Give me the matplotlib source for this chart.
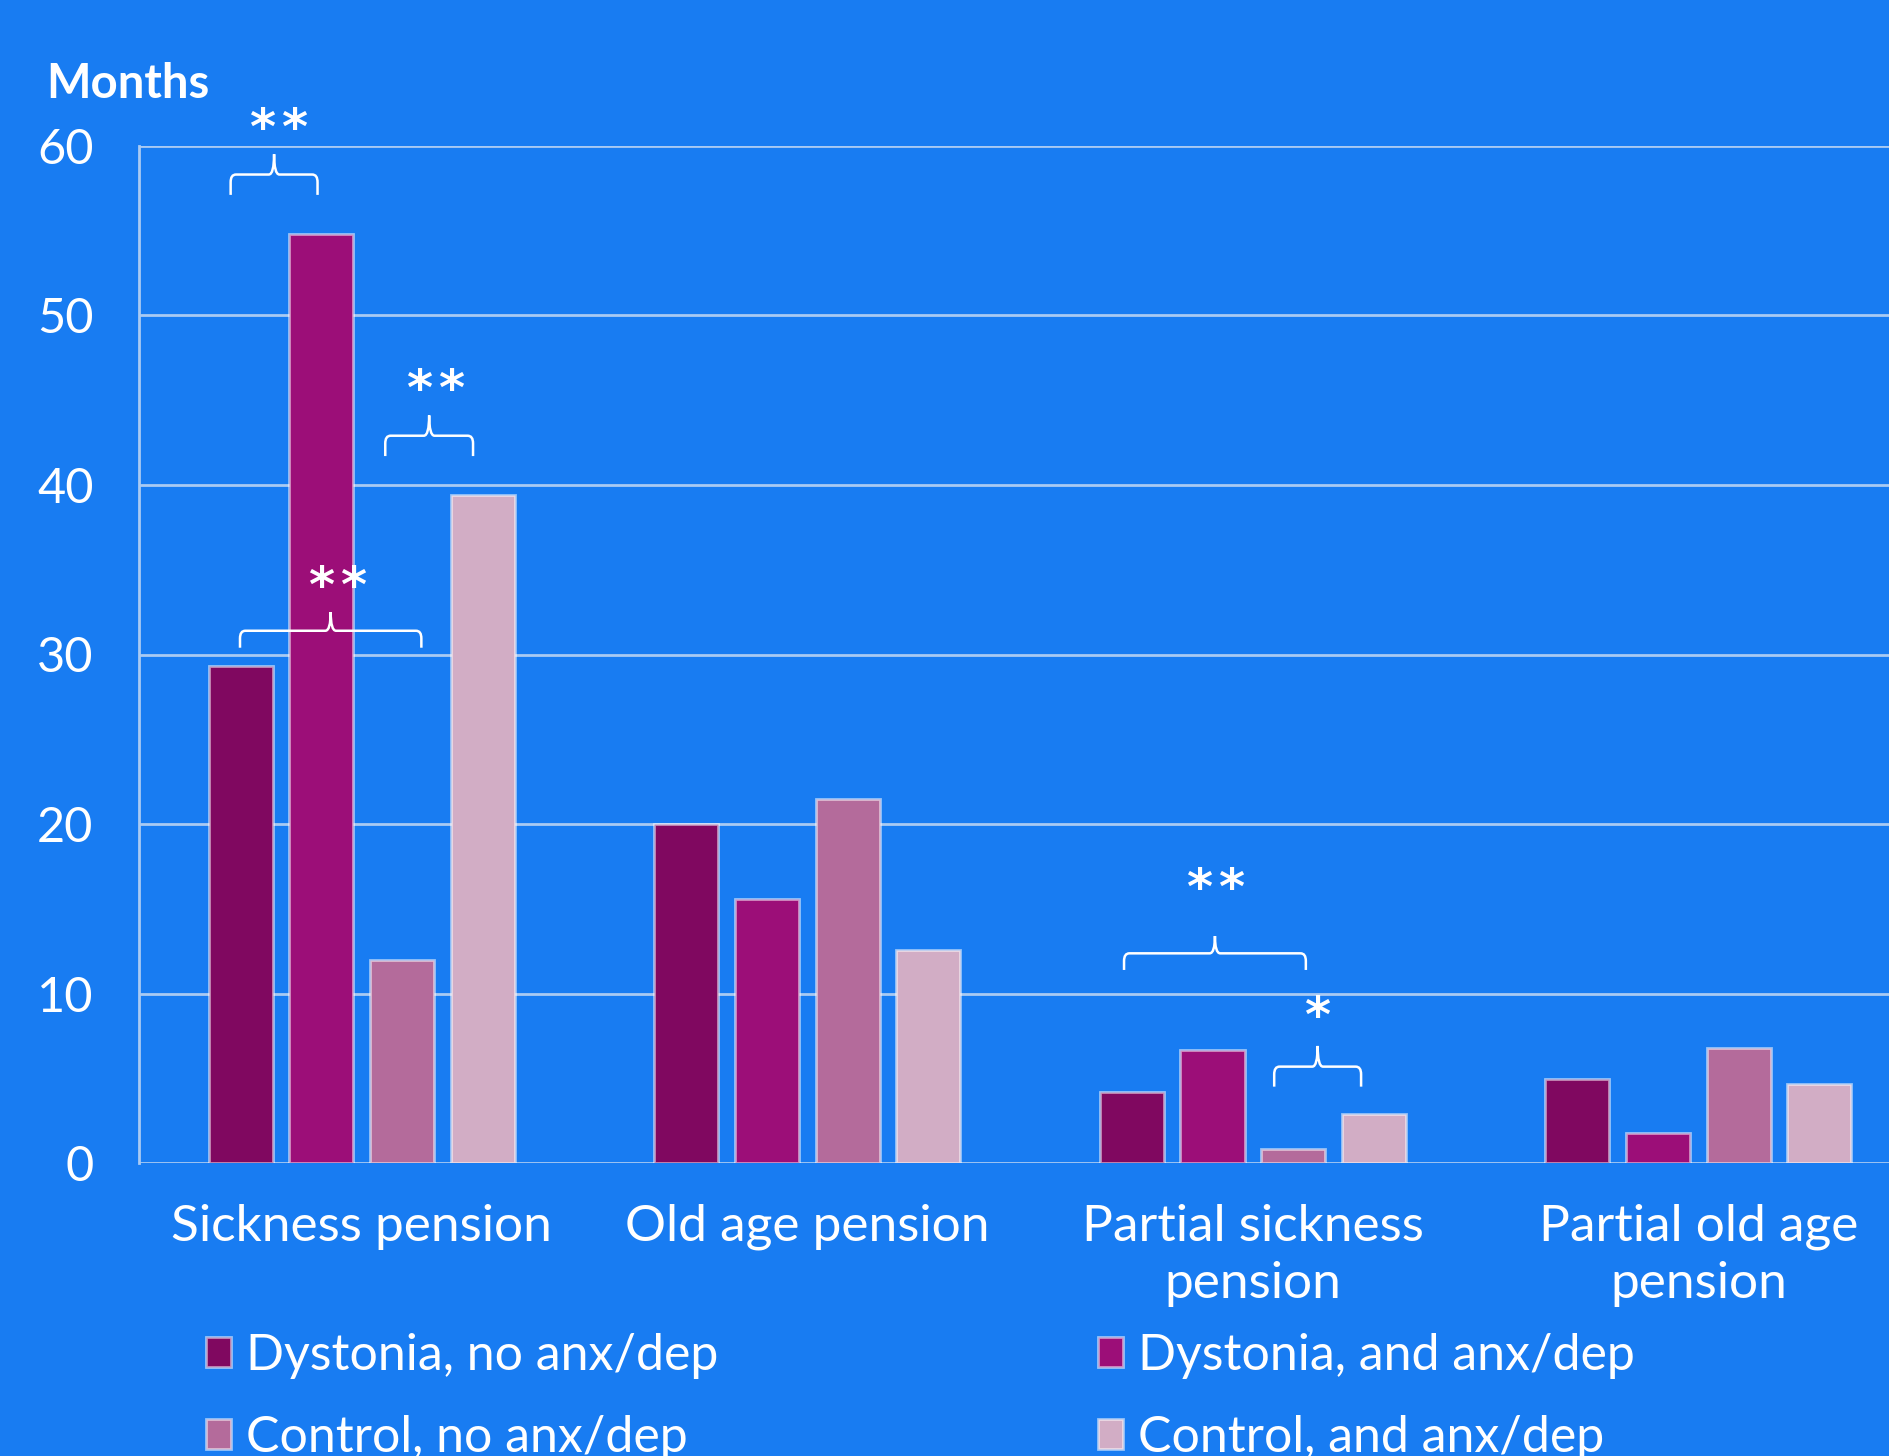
import matplotlib
matplotlib.use("Agg")
import matplotlib.pyplot as plt
from matplotlib.path import Path
from matplotlib.patches import PathPatch
import numpy as np

plt.rcParams['font.family'] = ['Lato', 'DejaVu Sans']

categories = ["Sickness pension", "Old age pension", "Partial sickness\npension", "Partial old age\npension"]
series_names = ["Dystonia, no anx/dep", "Dystonia, and anx/dep", "Control, no anx/dep", "Control, and anx/dep"]
dyst_no = [29.3, 20.0, 4.2, 5.0]
dyst_anx = [54.8, 15.6, 6.7, 1.8]
ctrl_no = [12.0, 21.5, 0.85, 6.8]
ctrl_anx = [39.4, 12.6, 2.9, 4.7]
yticks = [0, 10, 20, 30, 40, 50, 60]

# significance brackets: (x0, x1, y_bottom, y_horizontal, y_tip, label, label_x, label_y)
brackets = [
    (-0.294, -0.099, 57.1, 58.3, 59.5, "**", -0.188, 61.6),
    (0.053, 0.250, 41.7, 42.9, 44.1, "**", 0.165, 46.2),
    (-0.273, 0.134, 30.4, 31.4, 32.5, "**", -0.055, 34.55),
    (1.711, 2.119, 11.4, 12.38, 13.4, "**", 1.915, 16.75),
    (2.048, 2.243, 4.52, 5.70, 6.92, "*", 2.145, 9.23),
]

BG = "#187cf2"
colors = ["#800860", "#9c0e78", "#b46b9b", "#d2adc5"]
GRID = "#a9caf3"

fig = plt.figure(figsize=(18.9, 14.56), dpi=100, facecolor=BG)
ax = fig.add_axes([139.3/1890, 1 - 1163.3/1456, 1 - 139.3/1890, (1163.3 - 145.7)/1456])
ax.set_facecolor(BG)

x = np.arange(len(categories))
step = 0.181
width = 0.1437
all_series = [dyst_no, dyst_anx, ctrl_no, ctrl_anx]
handles = []
for i, (vals, c, name) in enumerate(zip(all_series, colors, series_names)):
    b = ax.bar(x + (i - 1.5) * step, vals, width, color=c, edgecolor=(1, 1, 1, 0.55),
               linewidth=2, label=name, zorder=3)
    handles.append(b)

ax.set_xlim(-0.499, 3.43)
ax.set_ylim(0, 60)
ax.set_yticks(yticks)
ax.set_yticklabels([str(t) for t in yticks], fontsize=35, color="white")
ax.tick_params(axis='y', length=0, pad=33)
ax.set_xticks(x)
ax.set_xticklabels(categories, fontsize=37, color="white", linespacing=1.3)
ax.tick_params(axis='x', length=0, pad=29)
ax.grid(axis='y', color=GRID, linewidth=2, zorder=0)
for s in ['top', 'right', 'bottom']:
    ax.spines[s].set_visible(False)
ax.spines['left'].set_color(GRID)
ax.spines['left'].set_linewidth(2)

fig.text(46/1890, 1 - 84/1456, "Months", fontsize=34, fontweight='bold', color='white',
         va='center', ha='left')

def brace(x0, x1, yb, yh, yt):
    xm = (x0 + x1) / 2
    rx, ry = 0.012, 0.45
    verts = [(x0, yb), (x0, yh - ry), (x0, yh), (x0 + rx, yh),
             (xm - rx, yh), (xm, yh), (xm, yt),
             (xm, yh), (xm + rx, yh),
             (x1 - rx, yh), (x1, yh), (x1, yh - ry), (x1, yb)]
    codes = [Path.MOVETO, Path.LINETO, Path.CURVE3, Path.CURVE3,
             Path.LINETO, Path.CURVE3, Path.CURVE3,
             Path.CURVE3, Path.CURVE3,
             Path.LINETO, Path.CURVE3, Path.CURVE3, Path.LINETO]
    return PathPatch(Path(verts, codes), facecolor='none', edgecolor='white',
                     linewidth=1.8, clip_on=False, zorder=5)

STAR_FS = 36
STAR_SEP = 23  # points between star centres
for (x0, x1, yb, yh, yt, lab, lx, ly) in brackets:
    ax.add_patch(brace(x0, x1, yb, yh, yt))
    n = len(lab)
    for k in range(n):
        dx = (k - (n - 1) / 2) * STAR_SEP
        ax.annotate("*", (lx, ly), xytext=(dx, -0.5 * STAR_FS), textcoords='offset points',
                    fontsize=STAR_FS, color='white', ha='center', va='baseline',
                    fontfamily='DejaVu Sans', fontweight='bold', annotation_clip=False, zorder=6)

order = [0, 2, 1, 3]
leg = fig.legend(handles=[handles[i] for i in order], labels=[series_names[i] for i in order],
                 ncol=2, loc='upper left',
                 bbox_to_anchor=(181/1890, 1 - 1308/1456), frameon=False,
                 fontsize=36, labelcolor='white', handlelength=0.5, handleheight=0.55,
                 handletextpad=0.3, columnspacing=7.6, labelspacing=0.72, borderpad=0)

fig.savefig("out.png", dpi=100, facecolor=BG)
